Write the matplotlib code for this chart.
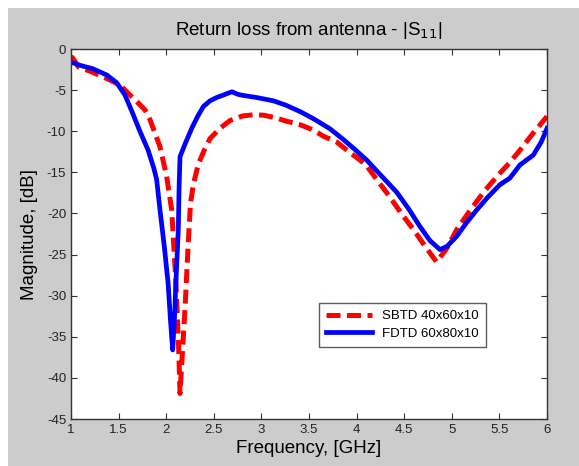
import matplotlib
matplotlib.use("Agg")
import matplotlib.pyplot as plt
from matplotlib.patches import Rectangle

plt.rcParams['font.family'] = ['Liberation Sans', 'DejaVu Sans']

# SBTD 40x60x10 (red dashed)
sbtd_f = [1.0, 1.02, 1.08, 1.2, 1.41, 1.515, 1.62, 1.70, 1.777, 1.83, 1.935,
          2.005, 2.058, 2.10, 2.13, 2.145, 2.175, 2.197, 2.23, 2.255, 2.285,
          2.337, 2.40, 2.46, 2.57, 2.67, 2.80, 2.915, 3.02, 3.125, 3.27, 3.405,
          3.545, 3.65, 3.79, 3.93, 4.035, 4.105, 4.22, 4.35, 4.47, 4.6, 4.72,
          4.84, 4.95, 5.05, 5.17, 5.296, 5.40, 5.506, 5.61, 5.716, 5.85, 6.0]
sbtd_db = [-0.9, -1.13, -2.2, -2.7, -3.77, -4.4, -5.6, -6.5, -7.4, -8.6, -11.9,
           -15.5, -19.6, -28.0, -36.0, -41.9, -36.0, -31.7, -24.0, -18.8, -16.5,
           -14.0, -12.3, -10.9, -9.6, -8.7, -8.15, -8.0, -8.05, -8.3, -8.8, -9.2,
           -9.85, -10.6, -11.3, -12.6, -13.5, -14.2, -16.0, -18.0, -20.0, -22.0, -24.0,
           -25.9, -24.2, -22.0, -20.0, -18.0, -16.5, -15.1, -13.8, -12.3, -10.3, -8.2]

# FDTD 60x80x10 (blue solid)
fdtd_f = [1.0, 1.1, 1.23, 1.375, 1.48, 1.567, 1.64, 1.72, 1.81, 1.87, 1.90,
          1.935, 1.98, 2.02, 2.045, 2.068, 2.09, 2.10, 2.115, 2.127, 2.135, 2.145,
          2.20, 2.27, 2.33, 2.39, 2.46, 2.53, 2.60, 2.69, 2.75, 2.81, 2.95, 3.125,
          3.25, 3.405, 3.55, 3.72, 3.85, 4.0, 4.105, 4.25, 4.42, 4.55, 4.666, 4.77,
          4.876, 4.95, 5.05, 5.15, 5.26, 5.38, 5.506, 5.61, 5.716, 5.856, 5.94, 6.0]
fdtd_db = [-1.6, -2.0, -2.4, -3.16, -4.1, -5.6, -7.6, -9.9, -12.3, -14.5, -15.9,
           -19.6, -24.0, -28.5, -33.0, -36.6, -32.0, -28.9, -25.0, -22.0, -17.0, -13.1,
           -11.5, -9.6, -8.2, -7.0, -6.3, -5.9, -5.6, -5.2, -5.5, -5.65, -5.9, -6.3,
           -6.8, -7.6, -8.5, -9.7, -10.9, -12.4, -13.5, -15.3, -17.4, -19.5, -21.6, -23.3,
           -24.4, -24.0, -22.8, -21.2, -19.6, -18.0, -16.5, -15.7, -14.1, -12.9, -11.3, -9.65]

xticks = [1, 1.5, 2, 2.5, 3, 3.5, 4, 4.5, 5, 5.5, 6]
yticks = [0, -5, -10, -15, -20, -25, -30, -35, -40, -45]

W, H = 579, 466
fig = plt.figure(figsize=(W/100, H/100), dpi=100)
fig.patch.set_facecolor('white')
fig.patches.append(Rectangle((8/W, 0), 1 - 8/W, 1 - 8/H, transform=fig.transFigure,
                             facecolor='#cccccc', edgecolor='none', zorder=-10))

ax = fig.add_axes([71/W, 1 - 419/H, (547-71)/W, (419-49)/H])
ax.set_facecolor('white')
ax.plot(sbtd_f, sbtd_db, color='red', lw=3.6, ls=(0, (2.8, 1.3)),
        label='SBTD 40x60x10', dash_capstyle='butt', dash_joinstyle='round')
ax.plot(fdtd_f, fdtd_db, color='blue', lw=3.4, label='FDTD 60x80x10',
        solid_joinstyle='round')

ax.set_xlim(1, 6)
ax.set_ylim(-45, 0)
ax.set_xticks(xticks)
ax.set_xticklabels([f'{t:g}' for t in xticks])
ax.set_yticks(yticks)
ax.set_yticklabels([f'{t:g}' for t in yticks])
ax.tick_params(direction='in', length=4, labelsize=9.5, top=True, right=True,
               labeltop=False, labelright=False, color='#333333', labelcolor='#222222')
for s in ax.spines.values():
    s.set_color('#333333')
    s.set_linewidth(1.0)

ax.set_title('Return loss from antenna - |S$_{11}$|', fontsize=13.5, pad=10)
ax.set_xlabel('Frequency, [GHz]', fontsize=13.5, labelpad=3)
ax.set_ylabel('Magnitude, [dB]', fontsize=13.5, labelpad=6)

leg = ax.legend(loc='upper left', bbox_to_anchor=((319-71)/(547-71), (419-303)/(419-49)),
                fontsize=9.5, frameon=True, fancybox=False, handlelength=3.5,
                borderpad=0.55, labelspacing=0.4, handletextpad=0.7, borderaxespad=0)
leg.get_frame().set_edgecolor('#333333')
leg.get_frame().set_linewidth(1.0)

fig.savefig('out.png', dpi=100, facecolor=fig.get_facecolor())
